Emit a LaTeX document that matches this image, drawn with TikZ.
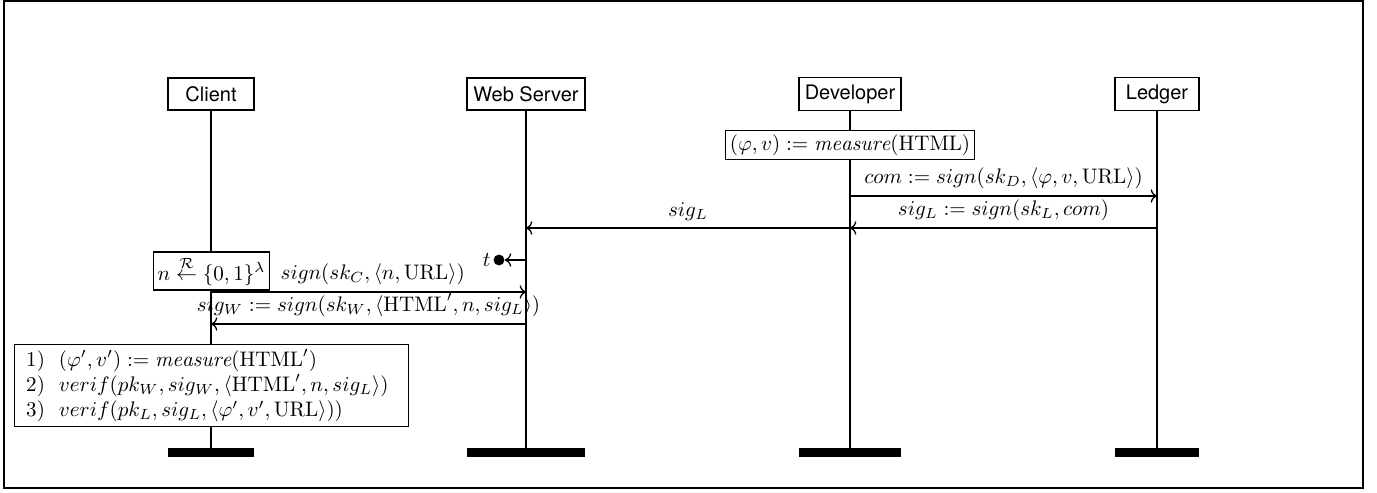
\documentclass[tikz,border=0pt]{standalone}
\usepackage{amsmath,amssymb}
\usepackage{fontspec}
\newfontfamily\headfont{TeX Gyre Heros}
\usepackage{tikz}
\usetikzlibrary{arrows.meta, positioning, calc}

\begin{document}
\begin{tikzpicture}[x=0.475pt, y=-0.475pt,
    actor/.style={rectangle, draw, semithick, font=\headfont\fontsize{9.5}{11}\selectfont, inner xsep=1pt, minimum height=15.2pt},
    endbar/.style={rectangle, fill=black, inner sep=0pt, minimum height=4.3pt},
    lifeline/.style={line width=0.9pt},
    action/.style={rectangle, draw, semithick, fill=white, inner sep=2pt},
    msg/.style={-{To[length=3pt]}, line width=0.6pt},
    dot/.style={circle, fill=black, inner sep=0pt, minimum size=5.2pt},
]
\useasboundingbox (0,0) rectangle (1377,493);
\draw[semithick] (4,1) rectangle (1363,488);

\node[actor, minimum width=40.85pt] (client) at (211,94) {Client};
\node[actor, minimum width=56.05pt] (web) at (526,94) {Web Server};
\node[actor, minimum width=48.45pt] (dev) at (850,94) {Developer};
\node[actor, minimum width=39.9pt] (ledger) at (1157,94) {Ledger};

\node[endbar, minimum width=40.85pt] (client-end) at (211,452.5) {};
\node[endbar, minimum width=56.05pt] (web-end) at (526,452.5) {};
\node[endbar, minimum width=48.45pt] (dev-end) at (850,452.5) {};
\node[endbar, minimum width=39.9pt] (ledger-end) at (1157,452.5) {};

\draw[lifeline] (client) -- (client-end);
\draw[lifeline] (web) -- (web-end);
\draw[lifeline] (dev) -- (dev-end);
\draw[lifeline] (ledger) -- (ledger-end);

\node[action] (measure) at (850,145) {$(\varphi, v) := \mathit{measure}(\text{HTML})$};
\draw[msg] (dev |- 0,196) -- (ledger |- 0,196) node[midway, above] {$com := sign(sk_D, \langle \varphi, v, \mathrm{URL} \rangle)$};
\draw[msg] (ledger |- 0,228) -- (dev |- 0,228) node[midway, above] {$sig_L := sign(sk_L, com)$};
\draw[msg] (dev |- 0,228) -- (web |- 0,228) node[midway, above] {$sig_L$};

\node[dot, label={[inner sep=1pt]left:$t$}] (tdot) at (499,260) {};
\draw[msg] (web |- tdot) -- (tdot);

\node[action] (nonce) at (211.5,271) {$n \stackrel{\mathcal{R}}{\leftarrow} \{0,1\}^\lambda$};
\draw[msg] (client |- 0,292) -- (web |- 0,292) node[midway, above, xshift=2pt] {$sign(sk_C, \langle n, \mathrm{URL} \rangle)$};
\draw[msg] (web |- 0,324) -- (client |- 0,324) node[midway, above] {$sig_W := sign(sk_W, \langle \text{HTML}', n, sig_L \rangle)$};

\node[action, align=left, text width=176pt, inner xsep=5.7pt] (verify) at (211.5,385.5) {%
1)~~$(\varphi', v') := \mathit{measure}(\text{HTML}')$\\
2)~~$verif(pk_W, sig_W, \langle \text{HTML}', n, sig_L \rangle)$\\
3)~~$verif(pk_L, sig_L, \langle \varphi', v', \mathrm{URL} \rangle))$};
\end{tikzpicture}
\end{document}
